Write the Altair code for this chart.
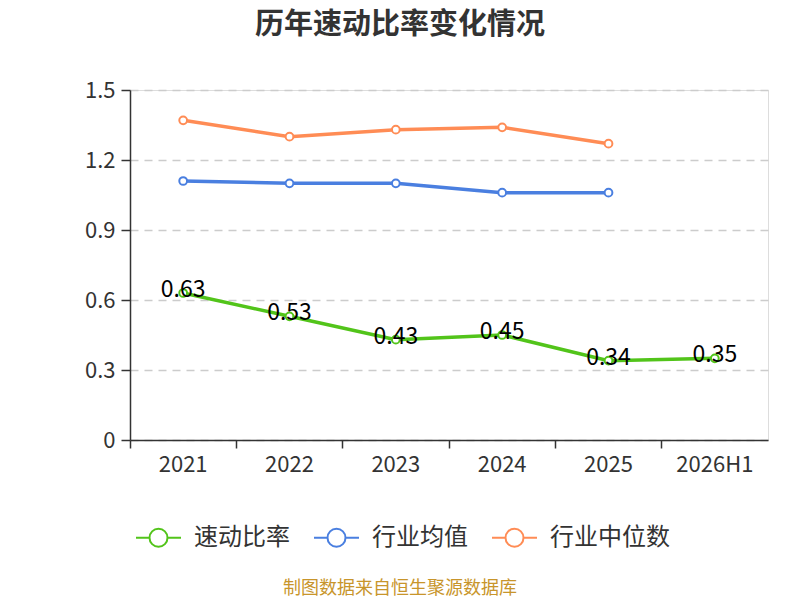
import altair as alt
import pandas as pd

years = ["2021", "2022", "2023", "2024", "2025", "2026H1"]
quick_ratio = [0.63, 0.53, 0.43, 0.45, 0.34, 0.35]
industry_mean = [1.11, 1.10, 1.10, 1.06, 1.06]
industry_median = [1.37, 1.30, 1.33, 1.34, 1.27]
series_names = ["速动比率", "行业均值", "行业中位数"]
series_colors = ["#52c41a", "#4a7fe0", "#ff8c55"]
y_ticks = [0, 0.3, 0.6, 0.9, 1.2, 1.5]
title_text = "历年速动比率变化情况"
source_text = "制图数据来自恒生聚源数据库"

rows = []
for y, v in zip(years, quick_ratio):
    rows.append({"year": y, "series": series_names[0], "value": v})
for y, v in zip(years, industry_mean):
    rows.append({"year": y, "series": series_names[1], "value": v})
for y, v in zip(years, industry_median):
    rows.append({"year": y, "series": series_names[2], "value": v})
df = pd.DataFrame(rows)

FONT = "Noto Sans CJK SC"

x_enc = alt.X(
    "year:N",
    sort=years,
    scale=alt.Scale(type="band", domain=years, paddingInner=0, paddingOuter=0),
    axis=alt.Axis(
        title=None,
        bandPosition=0,
        labelFontSize=22,
        labelColor="#333333",
        labelFont=FONT,
        labelPadding=6,
        tickSize=8,
        tickColor="#333333",
        tickWidth=1.5,
        domainColor="#333333",
        domainWidth=1.5,
        labelAngle=0,
        grid=False,
    ),
)
y_enc = alt.Y(
    "value:Q",
    scale=alt.Scale(domain=[0, 1.5], nice=False, zero=True),
    axis=alt.Axis(
        title=None,
        values=y_ticks,
        labelExpr="datum.value == 0 ? '0' : format(datum.value, '.1f')",
        labelFontSize=22,
        labelColor="#333333",
        labelFont=FONT,
        labelPadding=6,
        tickSize=9,
        tickColor="#333333",
        tickWidth=1.5,
        domainColor="#333333",
        domainWidth=1.5,
        grid=True,
        gridColor="#cccccc",
        gridDash=[8, 6],
        gridWidth=1.5,
    ),
)
color_enc = alt.Color(
    "series:N",
    scale=alt.Scale(domain=series_names, range=series_colors),
    legend=alt.Legend(
        title=None,
        orient="none",
        direction="horizontal",
        legendX=5,
        legendY=424,
        padding=0,
        symbolType="M-1,0L-0.4,0M0.4,0L1,0M0.4,0A0.4,0.4,0,1,1,-0.4,0A0.4,0.4,0,1,1,0.4,0",
        symbolSize=2025,
        symbolStrokeWidth=2,
        symbolFillColor="transparent",
        labelFontSize=24,
        labelFont=FONT,
        labelColor="#333333",
        labelOffset=12,
        columnPadding=20,
    ),
)

base = alt.Chart(df)
lines = base.mark_line(strokeWidth=3.5).encode(x=x_enc, y=y_enc, color=color_enc)
points = base.mark_point(filled=False, fill="white", size=60, strokeWidth=2, opacity=1).encode(
    x=x_enc, y=y_enc, color=alt.Color("series:N", scale=alt.Scale(domain=series_names, range=series_colors), legend=None)
)
labels = base.transform_filter(alt.datum.series == series_names[0]).mark_text(
    fontSize=23, font=FONT, color="#000000", dy=-3
).encode(x=x_enc, y=y_enc, text=alt.Text("value:Q", format=".2f"))

title = alt.Chart(pd.DataFrame({"t": [title_text]})).mark_text(
    fontSize=29, fontWeight="bold", font=FONT, color="#333333", baseline="middle", align="center"
).encode(x=alt.value(270), y=alt.value(-65), text="t:N")
source = alt.Chart(pd.DataFrame({"t": [source_text]})).mark_text(
    fontSize=18, font=FONT, color="#c8952b", baseline="middle", align="center"
).encode(x=alt.value(270), y=alt.value(499), text="t:N")

chart = alt.layer(lines, points, labels, title, source).properties(
    width=638,
    height=350,
    autosize=alt.AutoSizeParams(type="none"),
    padding={"left": 122, "top": 82, "right": 24, "bottom": 160},
).configure_view(stroke=None).configure(background="white")

chart.save("out.html", embed_options={"renderer": "svg", "actions": False})
